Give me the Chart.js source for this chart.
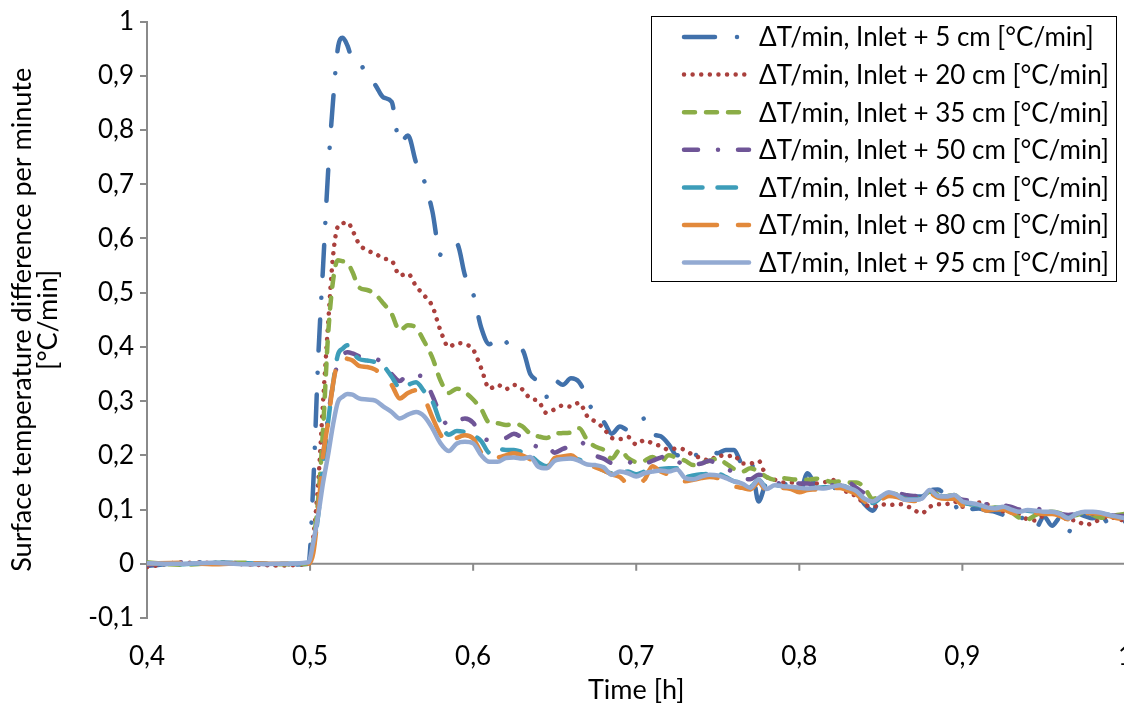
<!DOCTYPE html>
<html>
<head>
<meta charset="utf-8">
<title>Surface temperature difference per minute</title>
<script src="https://cdn.jsdelivr.net/npm/chart.js@4/dist/chart.umd.min.js"></script>
<style>
    body { margin: 0; background: #fff; overflow: hidden; }
    #wrap { width: 1156px; height: 707px; }
</style>
</head>
<body>
<div id="wrap"><canvas id="myChart" width="1156" height="707"></canvas></div>
<script>
'use strict';

// time [h]
var times = [
    0.40, 0.42, 0.44, 0.46, 0.48, 0.499, 0.502, 0.505, 0.508, 0.511,
    0.514, 0.517, 0.520, 0.523, 0.526, 0.530,
    0.535, 0.54, 0.545, 0.55, 0.555, 0.56, 0.565, 0.57, 0.575, 0.58,
    0.585, 0.59, 0.595, 0.6, 0.605, 0.61, 0.615, 0.62, 0.625, 0.63,
    0.635, 0.64, 0.645, 0.65, 0.655, 0.66, 0.665, 0.67, 0.675, 0.68,
    0.685, 0.69, 0.695, 0.7, 0.705, 0.71, 0.715, 0.72, 0.725, 0.73,
    0.735, 0.74, 0.745, 0.75, 0.755, 0.76, 0.765, 0.77, 0.775, 0.78,
    0.785, 0.79, 0.795, 0.8, 0.805, 0.81, 0.815, 0.82, 0.825, 0.83,
    0.835, 0.84, 0.845, 0.85, 0.855, 0.86, 0.865, 0.87, 0.875, 0.88,
    0.885, 0.89, 0.895, 0.9, 0.905, 0.91, 0.915, 0.92, 0.925, 0.93,
    0.935, 0.94, 0.945, 0.95, 0.955, 0.96, 0.965, 0.97, 0.975, 0.98,
    0.985, 0.99, 0.995, 1.0
];

var inlet5 = [
    -0.004, 0.001, 0.003, 0.000, -0.002, 0.000, 0.15, 0.38, 0.55, 0.72,
    0.85, 0.95, 0.97, 0.955, 0.93, 0.925,
    0.90, 0.883, 0.86, 0.852, 0.775, 0.79, 0.74, 0.706, 0.65, 0.57,
    0.58, 0.59, 0.532, 0.498, 0.435, 0.405, 0.42, 0.41, 0.39, 0.394,
    0.35, 0.335, 0.308, 0.338, 0.33, 0.342, 0.335, 0.305, 0.27, 0.262,
    0.24, 0.253, 0.247, 0.255, 0.268, 0.24, 0.235, 0.22, 0.20, 0.21,
    0.20, 0.204, 0.21, 0.204, 0.21, 0.21, 0.185, 0.195, 0.115, 0.148,
    0.145, 0.148, 0.14, 0.128, 0.167, 0.145, 0.14, 0.14, 0.14, 0.137,
    0.132, 0.11, 0.098, 0.124, 0.13, 0.128, 0.125, 0.124, 0.124, 0.135,
    0.137, 0.124, 0.11, 0.09, 0.10, 0.102, 0.098, 0.096, 0.09, 0.08,
    0.085, 0.08, 0.066, 0.087, 0.07, 0.085, 0.058, 0.093, 0.088, 0.084,
    0.09, 0.072, 0.07, 0.078
];

var inlet20 = [
    -0.006, 0.002, 0.002, -0.001, -0.003, 0.000, 0.05, 0.15, 0.30, 0.44,
    0.565, 0.622, 0.628, 0.63, 0.615, 0.59,
    0.578, 0.572, 0.563, 0.559, 0.532, 0.535, 0.512, 0.495, 0.475, 0.43,
    0.40, 0.407, 0.405, 0.395, 0.36, 0.323, 0.33, 0.322, 0.33, 0.322,
    0.305, 0.30, 0.278, 0.285, 0.292, 0.29, 0.297, 0.272, 0.262, 0.25,
    0.232, 0.23, 0.234, 0.22, 0.228, 0.222, 0.217, 0.21, 0.213, 0.21,
    0.20, 0.195, 0.19, 0.20, 0.198, 0.20, 0.185, 0.185, 0.19, 0.16,
    0.155, 0.15, 0.15, 0.145, 0.15, 0.148, 0.15, 0.155, 0.145, 0.13,
    0.125, 0.11, 0.105, 0.11, 0.108, 0.11, 0.108, 0.10, 0.093, 0.105,
    0.11, 0.11, 0.115, 0.105, 0.11, 0.113, 0.11, 0.10, 0.097, 0.10,
    0.09, 0.082, 0.08, 0.09, 0.095, 0.09, 0.081, 0.08, 0.072, 0.075,
    0.083, 0.087, 0.082, 0.08
];

var inlet35 = [
    0.003, -0.002, 0.001, 0.002, -0.001, 0.000, 0.04, 0.12, 0.25, 0.42,
    0.52, 0.56, 0.558, 0.555, 0.538, 0.51,
    0.505, 0.497, 0.48, 0.461, 0.43, 0.44, 0.435, 0.41, 0.38, 0.338,
    0.315, 0.323, 0.316, 0.303, 0.285, 0.26, 0.259, 0.256, 0.258, 0.254,
    0.24, 0.235, 0.232, 0.24, 0.241, 0.242, 0.25, 0.228, 0.216, 0.21,
    0.194, 0.21, 0.195, 0.188, 0.19, 0.197, 0.188, 0.20, 0.195, 0.19,
    0.182, 0.186, 0.19, 0.194, 0.185, 0.175, 0.17, 0.176, 0.17, 0.16,
    0.155, 0.158, 0.156, 0.155, 0.155, 0.157, 0.155, 0.151, 0.152, 0.15,
    0.15, 0.14, 0.12, 0.125, 0.13, 0.128, 0.123, 0.12, 0.122, 0.133,
    0.128, 0.125, 0.127, 0.115, 0.11, 0.108, 0.102, 0.104, 0.10, 0.095,
    0.085, 0.082, 0.09, 0.095, 0.096, 0.093, 0.088, 0.09, 0.095, 0.09,
    0.085, 0.085, 0.09, 0.092
];

var inlet50 = [
    -0.002, 0.003, 0.000, 0.001, -0.001, 0.000, 0.03, 0.10, 0.20, 0.27,
    0.33, 0.37, 0.385, 0.39, 0.388, 0.383,
    0.38, 0.378, 0.37, 0.35, 0.337, 0.35, 0.348, 0.342, 0.31, 0.275,
    0.255, 0.262, 0.268, 0.26, 0.235, 0.228, 0.229, 0.232, 0.24, 0.232,
    0.222, 0.216, 0.219, 0.205, 0.212, 0.217, 0.226, 0.215, 0.20, 0.194,
    0.186, 0.188, 0.188, 0.182, 0.184, 0.19, 0.196, 0.20, 0.19, 0.182,
    0.183, 0.185, 0.19, 0.182, 0.176, 0.168, 0.158, 0.156, 0.164, 0.16,
    0.152, 0.146, 0.145, 0.148, 0.148, 0.146, 0.145, 0.145, 0.148, 0.15,
    0.14, 0.13, 0.125, 0.124, 0.128, 0.13, 0.127, 0.125, 0.127, 0.135,
    0.13, 0.128, 0.125, 0.118, 0.117, 0.113, 0.11, 0.112, 0.108, 0.105,
    0.10, 0.10, 0.102, 0.098, 0.095, 0.092, 0.09, 0.092, 0.093, 0.092,
    0.09, 0.09, 0.088, 0.088
];

var inlet65 = [
    0.001, -0.001, 0.002, 0.001, 0.000, 0.000, 0.03, 0.09, 0.18, 0.26,
    0.33, 0.385, 0.397, 0.403, 0.39, 0.378,
    0.375, 0.372, 0.365, 0.345, 0.325, 0.33, 0.335, 0.318, 0.30, 0.26,
    0.238, 0.245, 0.243, 0.237, 0.226, 0.205, 0.212, 0.21, 0.21, 0.206,
    0.20, 0.187, 0.18, 0.19, 0.197, 0.195, 0.192, 0.185, 0.18, 0.172,
    0.167, 0.168, 0.17, 0.165, 0.17, 0.173, 0.175, 0.176, 0.176, 0.16,
    0.163, 0.165, 0.166, 0.166, 0.16, 0.152, 0.15, 0.142, 0.155, 0.14,
    0.145, 0.143, 0.14, 0.136, 0.14, 0.14, 0.141, 0.142, 0.145, 0.14,
    0.133, 0.118, 0.112, 0.122, 0.13, 0.127, 0.12, 0.119, 0.12, 0.133,
    0.125, 0.124, 0.125, 0.113, 0.11, 0.108, 0.10, 0.103, 0.104, 0.098,
    0.095, 0.098, 0.096, 0.095, 0.096, 0.09, 0.085, 0.092, 0.095, 0.095,
    0.093, 0.09, 0.086, 0.085
];

var inlet80 = [
    0.000, 0.002, -0.001, 0.001, 0.000, 0.000, 0.02, 0.10, 0.20, 0.26,
    0.33, 0.372, 0.38, 0.378, 0.375, 0.365,
    0.363, 0.358, 0.345, 0.33, 0.305, 0.315, 0.32, 0.305, 0.27, 0.238,
    0.222, 0.232, 0.237, 0.231, 0.205, 0.194, 0.196, 0.20, 0.204, 0.20,
    0.193, 0.185, 0.176, 0.195, 0.198, 0.20, 0.19, 0.182, 0.178, 0.172,
    0.165, 0.16, 0.148, 0.15, 0.155, 0.18, 0.17, 0.165, 0.163, 0.152,
    0.155, 0.158, 0.16, 0.158, 0.15, 0.143, 0.14, 0.137, 0.15, 0.135,
    0.14, 0.14, 0.138, 0.132, 0.136, 0.137, 0.138, 0.14, 0.14, 0.135,
    0.128, 0.115, 0.108, 0.118, 0.125, 0.123, 0.118, 0.116, 0.117, 0.13,
    0.122, 0.12, 0.12, 0.108, 0.105, 0.104, 0.098, 0.10, 0.10, 0.094,
    0.092, 0.095, 0.094, 0.092, 0.092, 0.088, 0.082, 0.09, 0.093, 0.093,
    0.092, 0.088, 0.084, 0.083
];

var inlet95 = [
    0.001, 0.000, 0.002, -0.001, 0.000, 0.003, 0.04, 0.09, 0.15, 0.20,
    0.255, 0.298, 0.308, 0.313, 0.312, 0.305,
    0.303, 0.301, 0.29, 0.28, 0.268, 0.275, 0.28, 0.272, 0.25, 0.222,
    0.208, 0.222, 0.225, 0.222, 0.20, 0.188, 0.188, 0.195, 0.196, 0.194,
    0.197, 0.179, 0.176, 0.19, 0.193, 0.194, 0.19, 0.183, 0.182, 0.178,
    0.164, 0.17, 0.167, 0.161, 0.167, 0.17, 0.172, 0.17, 0.174, 0.158,
    0.156, 0.161, 0.164, 0.163, 0.158, 0.152, 0.148, 0.14, 0.155, 0.138,
    0.145, 0.143, 0.142, 0.14, 0.139, 0.14, 0.139, 0.142, 0.145, 0.14,
    0.134, 0.12, 0.115, 0.124, 0.132, 0.127, 0.118, 0.118, 0.12, 0.136,
    0.125, 0.124, 0.127, 0.115, 0.112, 0.109, 0.104, 0.102, 0.105, 0.10,
    0.096, 0.099, 0.098, 0.096, 0.096, 0.092, 0.084, 0.092, 0.096, 0.096,
    0.094, 0.09, 0.087, 0.084
];

var seriesLabels = [
    'ΔT/min, Inlet + 5 cm [°C/min]',
    'ΔT/min, Inlet + 20 cm [°C/min]',
    'ΔT/min, Inlet + 35 cm [°C/min]',
    'ΔT/min, Inlet + 50 cm [°C/min]',
    'ΔT/min, Inlet + 65 cm [°C/min]',
    'ΔT/min, Inlet + 80 cm [°C/min]',
    'ΔT/min, Inlet + 95 cm [°C/min]'
];
var seriesValues = [inlet5, inlet20, inlet35, inlet50, inlet65, inlet80, inlet95];
var seriesColors = ['#4171ab', '#aa403d', '#8bad47', '#6f5597', '#3d9db9', '#e2893b', '#93aad2'];
var seriesDashes = [
    [31, 22, 0.01, 22],
    [0.01, 8.6],
    [11, 11],
    [14, 20, 0.01, 20],
    [18.5, 15],
    [33, 21],
    []
];

var axisGray = '#8a8a8a';
var fontFamily = "Lato, 'Noto Sans', 'DejaVu Sans', sans-serif";

function commaNum(v) {
    var r = Math.round(v * 10) / 10;
    return String(r).replace('.', ',');
}

var datasets = seriesValues.map(function (vals, i) {
    return {
        label: seriesLabels[i],
        data: times.map(function (t, k) { return {x: t, y: vals[k]}; }),
        borderColor: seriesColors[i],
        backgroundColor: seriesColors[i],
        borderWidth: 4.5,
        borderDash: seriesDashes[i],
        borderCapStyle: 'round',
        borderJoinStyle: 'round',
        pointRadius: 0,
        fill: false,
        cubicInterpolationMode: 'monotone',
        order: seriesValues.length - 1 - i
    };
});

// x axis line at y = 0 with small tick marks below it
var zeroAxis = {
    id: 'zeroAxis',
    beforeDatasetsDraw: function (chart) {
        var ctx = chart.ctx;
        var xs = chart.scales.x;
        var y0 = chart.scales.y.getPixelForValue(0);
        ctx.save();
        ctx.strokeStyle = axisGray;
        ctx.lineWidth = 2;
        ctx.beginPath();
        ctx.moveTo(chart.chartArea.left, y0);
        ctx.lineTo(chart.width, y0);
        xs.ticks.forEach(function (t) {
            var px = xs.getPixelForValue(t.value);
            ctx.moveTo(px, y0);
            ctx.lineTo(px, y0 + 7);
        });
        ctx.stroke();
        ctx.restore();
    }
};

// legend box drawn inside the plot, top right
var boxLegend = {
    id: 'boxLegend',
    afterDraw: function (chart) {
        var ctx = chart.ctx;
        var box = {left: 651, top: 16, right: 1116, bottom: 281};
        ctx.save();
        ctx.fillStyle = '#fff';
        ctx.fillRect(box.left, box.top, box.right - box.left, box.bottom - box.top);
        ctx.strokeStyle = '#000';
        ctx.lineWidth = 1;
        ctx.setLineDash([]);
        ctx.strokeRect(box.left + 0.5, box.top + 0.5, box.right - box.left, box.bottom - box.top);
        ctx.font = '26px ' + fontFamily;
        ctx.textBaseline = 'middle';
        ctx.textAlign = 'left';
        chart.data.datasets.forEach(function (ds, i) {
            var y = 37 + i * 37.6;
            ctx.strokeStyle = ds.borderColor;
            ctx.lineWidth = ds.borderWidth;
            ctx.lineCap = 'round';
            ctx.setLineDash(ds.borderDash);
            ctx.beginPath();
            ctx.moveTo(684, y);
            ctx.lineTo(749, y);
            ctx.stroke();
            ctx.setLineDash([]);
            ctx.fillStyle = '#000';
            ctx.fillText(ds.label, 759, y + 1);
        });
        ctx.restore();
    }
};

Chart.defaults.font.family = fontFamily;
Chart.defaults.font.size = 26;
Chart.defaults.color = '#000';

var ctx = document.getElementById('myChart');
var myChart = new Chart(ctx, {
    type: 'line',
    data: {datasets: datasets},
    options: {
        responsive: false,
        animation: false,
        layout: {padding: {top: 20, right: 0, bottom: 0, left: 0}},
        plugins: {
            legend: {display: false},
            tooltip: {enabled: false}
        },
        scales: {
            x: {
                type: 'linear',
                min: 0.4,
                max: 1.0,
                grid: {display: false, drawTicks: false},
                border: {display: false},
                ticks: {
                    stepSize: 0.1,
                    padding: 23,
                    maxRotation: 0,
                    callback: function (v) { return commaNum(v); }
                },
                title: {
                    display: true,
                    text: 'Time [h]',
                    font: {size: 27},
                    padding: {top: 0, bottom: 1}
                },
                afterFit: function (scale) { scale.height = 89; }
            },
            y: {
                min: -0.1,
                max: 1,
                grid: {
                    drawOnChartArea: false,
                    drawTicks: true,
                    tickLength: 7,
                    color: axisGray,
                    lineWidth: 2
                },
                border: {display: true, color: axisGray, width: 2},
                ticks: {
                    stepSize: 0.1,
                    padding: 6,
                    callback: function (v) { return commaNum(v); }
                },
                title: {
                    display: true,
                    text: ['Surface temperature difference per minute', '[°C/min]'],
                    font: {size: 27, lineHeight: 0.96},
                    padding: {top: 9, bottom: 0}
                },
                afterFit: function (scale) { scale.width = 147; }
            }
        }
    },
    plugins: [zeroAxis, boxLegend]
});
</script>
</body>
</html>
